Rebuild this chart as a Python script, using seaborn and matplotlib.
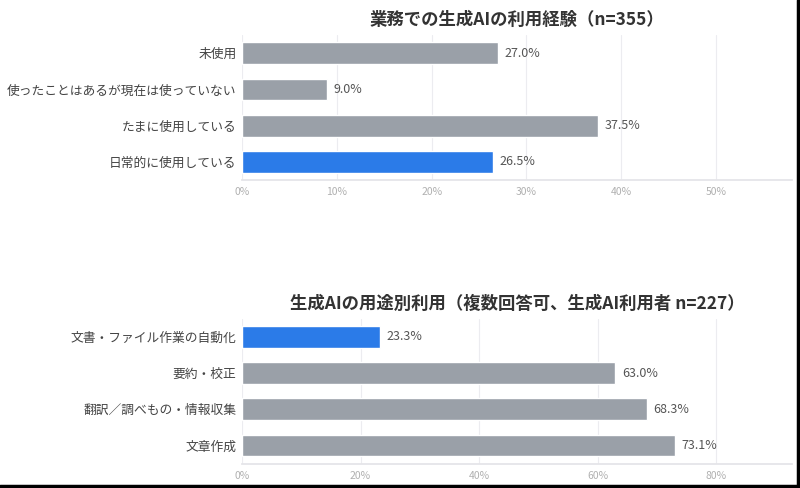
import matplotlib
matplotlib.use('Agg')
import matplotlib.pyplot as plt
import seaborn as sns
import pandas as pd

# ===== データ =====
usage_labels = ['未使用', '使ったことはあるが現在は使っていない', 'たまに使用している', '日常的に使用している']
usage_values = [27.0, 9.0, 37.5, 26.5]
usage_highlight = [False, False, False, True]

purpose_labels = ['文書・ファイル作業の自動化', '要約・校正', '翻訳／調べもの・情報収集', '文章作成']
purpose_values = [23.3, 63.0, 68.3, 73.1]
purpose_highlight = [True, False, False, False]

top_title = '業務での生成AIの利用経験（n=355）'
bottom_title = '生成AIの用途別利用（複数回答可、生成AI利用者 n=227）'
top_ticks = [0, 10, 20, 30, 40, 50]
bottom_ticks = [0, 20, 40, 60, 80]

GRAY = '#9aa0a8'
BLUE = '#2b7be8'

sns.set_theme(style='white')
plt.rcParams['font.family'] = ['Noto Sans CJK JP', 'DejaVu Sans']

fig = plt.figure(figsize=(8, 4.88), dpi=100)
ax1 = fig.add_axes([0.3025, 0.631, 0.6875, 0.297])
ax2 = fig.add_axes([0.3025, 0.050, 0.6875, 0.297])


def draw(ax, labels, values, highlight, ticks, xmax, title):
    df = pd.DataFrame({'label': labels, 'value': values,
                       'hl': ['y' if h else 'n' for h in highlight]})
    sns.barplot(data=df, y='label', x='value', hue='hl', orient='h',
                palette={'y': BLUE, 'n': GRAY}, dodge=False, width=0.6,
                legend=False, ax=ax, saturation=1)
    ax.set_xlim(0, xmax)
    ax.set_ylim(3.5, -0.5)
    ax.set_xticks(ticks)
    ax.set_xticklabels([f'{t}%' for t in ticks], fontsize=7.5, color='#b0b0b0')
    ax.tick_params(axis='y', labelsize=9.2, labelcolor='#444444', length=0, pad=4)
    ax.tick_params(axis='x', length=0, pad=5)
    ax.set_xlabel('')
    ax.set_ylabel('')
    ax.grid(axis='x', color='#ececf0', linewidth=0.8)
    ax.set_axisbelow(True)
    for s in ['top', 'right', 'left']:
        ax.spines[s].set_visible(False)
    ax.spines['bottom'].set_color('#e4e4e8')
    for i, v in enumerate(values):
        ax.text(v + xmax * 0.012, i, f'{v:.1f}%', va='center', ha='left',
                fontsize=9, color='#555555')
    ax.set_title(title, fontsize=12.5, fontweight='bold', color='#333333', pad=7)


draw(ax1, usage_labels, usage_values, usage_highlight, top_ticks, 58, top_title)
draw(ax2, purpose_labels, purpose_values, purpose_highlight, bottom_ticks, 92.8, bottom_title)

# 画像の右・下の黒枠
fig.add_artist(plt.Line2D([0.997, 0.997], [0, 1], color='black', linewidth=2.5, transform=fig.transFigure))
fig.add_artist(plt.Line2D([0, 1], [0.004, 0.004], color='black', linewidth=2.5, transform=fig.transFigure))

fig.savefig('out.png', dpi=100)
